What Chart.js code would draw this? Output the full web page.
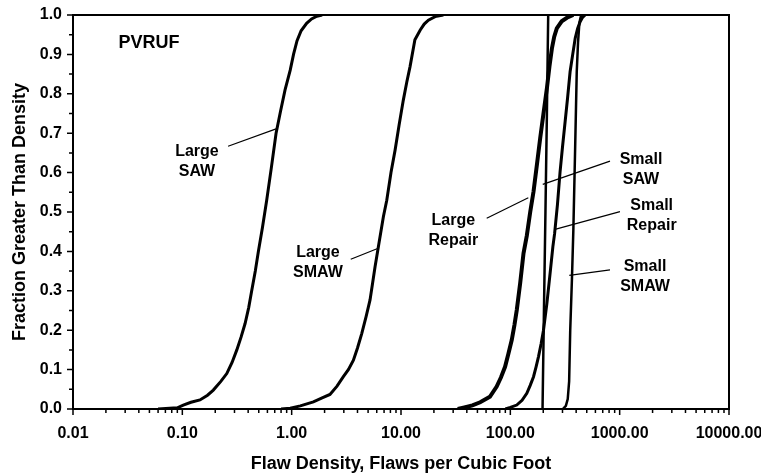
<!DOCTYPE html>
<html lang="en">
<head>
    <meta charset="UTF-8">
    <title>PVRUF Flaw Density</title>
    <script src="https://cdn.jsdelivr.net/npm/chart.js"></script>
    <style>
        body { margin: 0; background: #ffffff; }
        canvas { display: block; }
    </style>
</head>
<body>
    <canvas id="flawChart" width="761" height="476"></canvas>
    <script>
        // decade ticks on the x axis
        const xDecades = [0.01, 0.1, 1, 10, 100, 1000, 10000];

        // curves: density (x) and fraction (y)
        const largeSawX = [0.06, 0.09, 0.102, 0.12, 0.145, 0.17, 0.192, 0.225, 0.255, 0.285, 0.315, 0.345, 0.375, 0.405, 0.431, 0.465, 0.496, 0.54, 0.591, 0.65, 0.72, 0.79, 0.87, 0.97, 1.04, 1.12, 1.22, 1.37, 1.52, 1.70, 1.90];
        const largeSawY = [0, 0.003, 0.01, 0.017, 0.023, 0.035, 0.048, 0.07, 0.09, 0.118, 0.15, 0.183, 0.217, 0.258, 0.30, 0.35, 0.40, 0.46, 0.53, 0.61, 0.70, 0.755, 0.81, 0.86, 0.90, 0.935, 0.96, 0.979, 0.99, 0.997, 1.0];

        const largeSmawX = [0.8, 0.97, 1.2, 1.58, 1.9, 2.24, 2.6, 2.97, 3.3, 3.67, 4.0, 4.38, 4.8, 5.21, 5.5, 5.79, 6.21, 6.9, 7.41, 8.1, 8.83, 9.6, 10.5, 11.3, 12.1, 13.4, 15.0, 16.3, 17.8, 20.5, 24.4];
        const largeSmawY = [0, 0.002, 0.008, 0.018, 0.028, 0.037, 0.058, 0.082, 0.10, 0.124, 0.155, 0.192, 0.235, 0.277, 0.32, 0.361, 0.412, 0.488, 0.53, 0.60, 0.657, 0.72, 0.784, 0.83, 0.869, 0.937, 0.962, 0.977, 0.987, 0.996, 1.0];

        const largeRepairX = [33, 38, 45, 53, 65, 75, 82, 89.5, 96, 103, 109, 114.5, 123, 132, 141.5, 152, 163, 175, 187.5, 201, 216, 228, 240, 252, 266, 295, 329, 376];
        const largeRepairY = [0, 0.004, 0.009, 0.017, 0.031, 0.057, 0.08, 0.107, 0.14, 0.175, 0.213, 0.251, 0.319, 0.395, 0.44, 0.50, 0.552, 0.62, 0.687, 0.75, 0.814, 0.87, 0.915, 0.945, 0.966, 0.984, 0.993, 1.0];

        const smallSawX = [197, 203, 209.5, 216, 222];
        const smallSawY = [0, 0.25, 0.5, 0.75, 1.0];

        const smallRepairX = [90, 100, 114.5, 128, 141.5, 152, 163, 172, 181, 191, 201, 216, 231, 245, 254, 270, 285, 300, 317, 334, 352, 372, 392, 412, 435, 458, 483];
        const smallRepairY = [0, 0.004, 0.01, 0.022, 0.04, 0.06, 0.082, 0.107, 0.133, 0.165, 0.20, 0.268, 0.344, 0.412, 0.445, 0.52, 0.602, 0.665, 0.729, 0.79, 0.856, 0.90, 0.941, 0.965, 0.983, 0.994, 1.0];

        const smallSmawX = [302, 322, 335, 345, 353, 366, 377, 391, 405, 416, 428, 440, 450];
        const smallSmawY = [0, 0.008, 0.025, 0.07, 0.2, 0.33, 0.454, 0.655, 0.856, 0.93, 0.98, 0.995, 1.0];

        // text labels with leader lines, placed in data coordinates
        const labels = [
            { text: ['PVRUF'], x: 0.0495, y: 0.929, size: 18 },
            { text: ['Large', 'SAW'], x: 0.136, y: 0.627, line: [0.262, 0.667, 0.72, 0.711] },
            { text: ['Large', 'SMAW'], x: 1.74, y: 0.371, line: [3.47, 0.380, 6.20, 0.408] },
            { text: ['Large', 'Repair'], x: 30.1, y: 0.452, line: [60.8, 0.484, 146, 0.536] },
            { text: ['Small', 'SAW'], x: 1567, y: 0.608, line: [816, 0.629, 198, 0.570] },
            { text: ['Small', 'Repair'], x: 1964, y: 0.492, line: [1007, 0.501, 256, 0.456] },
            { text: ['Small', 'SMAW'], x: 1706, y: 0.335, line: [816, 0.353, 346, 0.339] }
        ];

        const FONT = 'Liberation Sans, Arial, sans-serif';

        function pts(xs, ys) {
            return xs.map((x, i) => ({ x: x, y: ys[i] }));
        }

        function series(xs, ys, width) {
            return {
                data: pts(xs, ys),
                borderColor: '#000000',
                borderWidth: width,
                pointRadius: 0,
                showLine: true,
                fill: false,
                tension: 0
            };
        }

        // frame, outside tick marks and annotation text
        const decorPlugin = {
            id: 'decor',
            afterDatasetsDraw(chart) {
                const ctx = chart.ctx;
                const xs = chart.scales.x;
                const ys = chart.scales.y;
                const a = chart.chartArea;
                ctx.save();
                ctx.strokeStyle = '#000000';

                // leader lines
                ctx.lineWidth = 1.2;
                labels.forEach(l => {
                    if (!l.line) return;
                    ctx.beginPath();
                    ctx.moveTo(xs.getPixelForValue(l.line[0]), ys.getPixelForValue(l.line[1]));
                    ctx.lineTo(xs.getPixelForValue(l.line[2]), ys.getPixelForValue(l.line[3]));
                    ctx.stroke();
                });

                // ticks
                ctx.lineWidth = 1.5;
                ctx.beginPath();
                for (let i = 0; i < xDecades.length; i++) {
                    const px = xs.getPixelForValue(xDecades[i]);
                    ctx.moveTo(px, a.bottom);
                    ctx.lineTo(px, a.bottom + 6);
                    if (i < xDecades.length - 1) {
                        for (let k = 2; k <= 9; k++) {
                            const mx = xs.getPixelForValue(xDecades[i] * k);
                            ctx.moveTo(mx, a.bottom);
                            ctx.lineTo(mx, a.bottom + 4);
                        }
                    }
                }
                for (let j = 0; j <= 20; j++) {
                    const py = ys.getPixelForValue(j * 0.05);
                    ctx.moveTo(a.left, py);
                    ctx.lineTo(a.left - (j % 2 === 0 ? 6 : 4), py);
                }
                ctx.stroke();

                // plot frame
                ctx.lineWidth = 2;
                ctx.strokeRect(a.left, a.top, a.right - a.left, a.bottom - a.top);

                // label text
                ctx.fillStyle = '#000000';
                ctx.textAlign = 'center';
                ctx.textBaseline = 'middle';
                labels.forEach(l => {
                    const size = l.size || 16;
                    ctx.font = 'bold ' + size + 'px ' + FONT;
                    const cx = xs.getPixelForValue(l.x);
                    const cy = ys.getPixelForValue(l.y);
                    const lh = 20;
                    const y0 = cy - (l.text.length - 1) * lh / 2;
                    l.text.forEach((t, i) => ctx.fillText(t, cx, y0 + i * lh));
                });
                ctx.restore();
            }
        };

        const ctx = document.getElementById('flawChart').getContext('2d');
        new Chart(ctx, {
            type: 'scatter',
            data: {
                datasets: [
                    series(largeSawX, largeSawY, 3),
                    series(largeSmawX, largeSmawY, 3),
                    series(largeRepairX, largeRepairY, 4),
                    series(smallSawX, smallSawY, 2.5),
                    series(smallRepairX, smallRepairY, 3),
                    series(smallSmawX, smallSmawY, 2.5)
                ]
            },
            options: {
                responsive: false,
                animation: false,
                layout: { padding: { top: 15, right: 32, left: 0, bottom: 0 } },
                plugins: {
                    legend: { display: false },
                    tooltip: { enabled: false }
                },
                scales: {
                    x: {
                        type: 'logarithmic',
                        min: 0.01,
                        max: 10000,
                        grid: { display: false, drawTicks: false },
                        border: { display: false },
                        afterBuildTicks: scale => {
                            scale.ticks = xDecades.map(v => ({ value: v }));
                        },
                        afterFit: scale => {
                            scale.height = 67;
                            scale.paddingLeft = 0;
                            scale.paddingRight = 0;
                        },
                        ticks: {
                            padding: 15,
                            maxRotation: 0,
                            autoSkip: false,
                            color: '#000000',
                            font: { family: FONT, size: 16, weight: 'bold' },
                            callback: v => Number(v).toFixed(2)
                        },
                        title: {
                            display: true,
                            text: 'Flaw Density, Flaws per Cubic Foot',
                            color: '#000000',
                            padding: { top: 0, bottom: 1 },
                            font: { family: FONT, size: 18, weight: 'bold' }
                        }
                    },
                    y: {
                        min: 0,
                        max: 1,
                        grid: { display: false, drawTicks: false },
                        border: { display: false },
                        afterFit: scale => {
                            scale.width = 73;
                            scale.paddingTop = 0;
                            scale.paddingBottom = 0;
                        },
                        ticks: {
                            stepSize: 0.1,
                            padding: 11,
                            color: '#000000',
                            font: { family: FONT, size: 16, weight: 'bold' },
                            callback: v => Number(v).toFixed(1)
                        },
                        title: {
                            display: true,
                            text: 'Fraction Greater Than Density',
                            color: '#000000',
                            padding: { top: 9, bottom: 0 },
                            font: { family: FONT, size: 18, weight: 'bold' }
                        }
                    }
                }
            },
            plugins: [decorPlugin]
        });
    </script>
</body>
</html>
